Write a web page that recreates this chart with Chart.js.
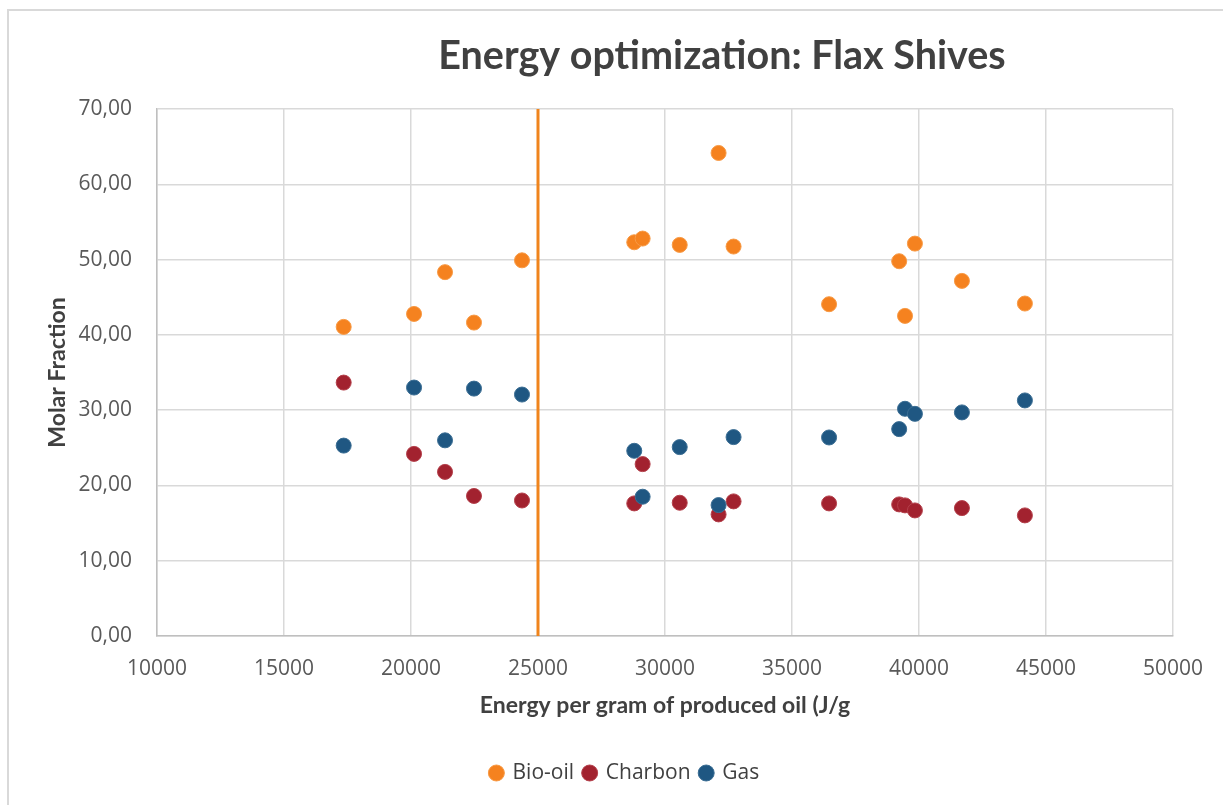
<!DOCTYPE html>
<html lang="en">
    <head>
        <meta charset="utf-8">
        <title> Energy optimization: Flax Shives </title>
        <script src="https://cdn.jsdelivr.net/npm/chart.js@4.4.1/dist/chart.umd.min.js"></script>
        <style>
            body { margin: 0; background: #ffffff; }
            canvas { display: block; }
        </style>
    </head>

    <body>
        <canvas id="flaxChart" width="1223" height="805"></canvas>

        <script>

            // energy per gram of produced oil (J/g), shared by the three series
            const energy = [17350, 20120, 21340, 22480, 24370, 28790, 29120, 30580, 32110, 32700, 36460, 39220, 39450, 39840, 41690, 44170];

            const bioOil  = [41.06, 42.78, 48.33, 41.63, 49.90, 52.30, 52.79, 51.95, 64.16, 51.73, 44.07, 49.78, 42.52, 52.12, 47.17, 44.16];
            const charbon = [33.66, 24.19, 21.80, 18.60, 18.00, 17.61, 22.83, 17.70, 16.15, 17.88, 17.61, 17.48, 17.35, 16.68, 16.99, 16.02];
            const gas     = [25.29, 33.00, 25.99, 32.86, 32.07, 24.60, 18.50, 25.09, 17.39, 26.42, 26.37, 27.48, 30.18, 29.51, 29.70, 31.29];

            const seriesNames = ['Bio-oil', 'Charbon', 'Gas'];

            // axes
            const xTicks = { min: 10000, max: 50000, step: 5000 };
            const yTicks = { min: 0, max: 70, step: 10 };

            // optimum marker
            const thresholdEnergy = 25000;

            const toPoints = values => values.map((v, i) => ({ x: energy[i], y: v }));

            const frame = {
                id: 'frame',
                beforeDraw (chart) {
                    const ctx = chart.ctx;
                    ctx.save();
                    ctx.fillStyle = '#ffffff';
                    ctx.fillRect(0, 0, chart.width, chart.height);
                    ctx.strokeStyle = '#d9d9d9';
                    ctx.lineWidth = 2;
                    ctx.beginPath();
                    ctx.moveTo(8, chart.height);
                    ctx.lineTo(8, 10);
                    ctx.lineTo(chart.width, 10);
                    ctx.stroke();
                    ctx.restore();
                }
            };

            // Excel put the title and legend a bit off centre
            const nudge = {
                id: 'nudge',
                afterLayout (chart) {
                    const shift = (box, centre) => {
                        if (!box) return;
                        const dx = centre - (box.left + box.right) / 2;
                        box.left += dx;
                        box.right += dx;
                    };
                    shift(chart.titleBlock, 722);
                    shift(chart.legend, 625);
                }
            };

            const marker = (label, values, colour, edge, order) => ({
                label: label,
                data: toPoints(values),
                backgroundColor: colour,
                borderColor: edge,
                borderWidth: 1,
                pointRadius: 7.5,
                pointHoverRadius: 7.5,
                pointStyle: 'circle',
                showLine: false,
                order: order
            });

            new Chart(document.getElementById('flaxChart').getContext('2d'), {
                type: 'scatter',
                data: {
                    datasets: [
                        marker(seriesNames[0], bioOil,  '#f5821f', '#f89a45', 3),
                        marker(seriesNames[1], charbon, '#a2222f', '#b4404b', 2),
                        marker(seriesNames[2], gas,     '#1f5782', '#3a6d93', 1),
                        {
                            label: 'threshold',
                            type: 'line',
                            data: [{ x: thresholdEnergy, y: yTicks.min }, { x: thresholdEnergy, y: yTicks.max }],
                            borderColor: '#f0841c',
                            borderWidth: 3,
                            pointRadius: 0,
                            fill: false,
                            order: 4
                        }
                    ]
                },
                options: {
                    responsive: false,
                    animation: false,
                    layout: { padding: { left: 8, right: 50, top: 0, bottom: 11.5 } },
                    plugins: {
                        title: {
                            display: true,
                            text: 'Energy optimization: Flax Shives',
                            color: '#404040',
                            font: { family: 'Lato', size: 39.5, weight: 'bold', lineHeight: 1.2 },
                            padding: { top: 32.3, bottom: 29.3 }
                        },
                        legend: {
                            position: 'bottom',
                            labels: {
                                color: '#404040',
                                font: { family: 'Open Sans', size: 21 },
                                usePointStyle: true,
                                boxWidth: 11.3,
                                boxHeight: 11.3,
                                padding: 10,
                                filter: item => seriesNames.includes(item.text),
                                sort: (a, b) => a.datasetIndex - b.datasetIndex
                            }
                        },
                        tooltip: { enabled: false }
                    },
                    scales: {
                        x: {
                            type: 'linear',
                            min: xTicks.min,
                            max: xTicks.max,
                            afterFit: scale => { scale.height = 116.5; },
                            ticks: {
                                stepSize: xTicks.step,
                                color: '#595959',
                                font: { family: 'Open Sans', size: 21 },
                                padding: 20,
                                maxRotation: 0,
                                callback: value => String(value)
                            },
                            grid: { color: '#d9d9d9', lineWidth: 1.5, drawTicks: false },
                            border: { color: '#bfbfbf', width: 1.5 },
                            title: {
                                display: true,
                                text: 'Energy per gram of produced oil (J/g',
                                color: '#404040',
                                font: { family: 'Lato', size: 23, weight: 'bold', lineHeight: 1.2 },
                                padding: { top: 4, bottom: 32.7 }
                            }
                        },
                        y: {
                            min: yTicks.min,
                            max: yTicks.max,
                            afterFit: scale => { scale.width = 149; },
                            ticks: {
                                stepSize: yTicks.step,
                                color: '#595959',
                                font: { family: 'Open Sans', size: 21 },
                                padding: 25,
                                callback: value => value.toFixed(2).replace('.', ',')
                            },
                            grid: { color: '#d9d9d9', lineWidth: 1.5, drawTicks: false },
                            border: { color: '#bfbfbf', width: 1.5 },
                            title: {
                                display: true,
                                text: 'Molar Fraction',
                                color: '#404040',
                                font: { family: 'Lato', size: 23, weight: 'bold', lineHeight: 1.2 },
                                padding: { top: 36.2, bottom: 4 }
                            }
                        }
                    }
                },
                plugins: [frame, nudge]
            });

        </script>
    </body>
</html>
